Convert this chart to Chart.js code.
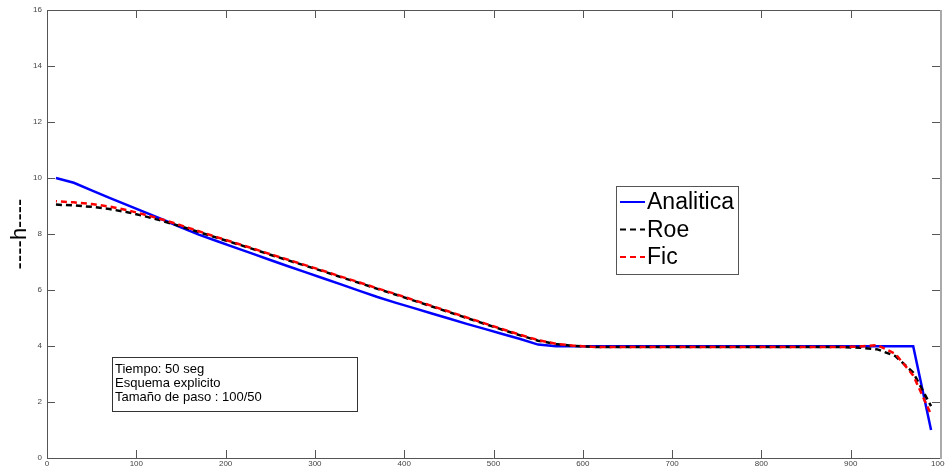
<!DOCTYPE html>
<html>
<head>
<meta charset="utf-8">
<script src="https://cdn.jsdelivr.net/npm/chart.js@4"></script>
<style>
  html, body { margin: 0; padding: 0; background: #fff; }
  #wrap { width: 945px; height: 471px; }
</style>
</head>
<body>
<div id="wrap"><canvas id="hChart" width="945" height="471"></canvas></div>
<script>
// nodos de la malla (dx = 20)
const xNodes = [10, 30, 50, 70, 90, 110, 130, 150, 170, 190, 210, 230, 250, 270, 290, 310, 330, 350, 370, 390,
  410, 430, 450, 470, 490, 510, 530, 550, 570, 590, 610, 630, 650, 670, 690, 710, 730, 750, 770, 790,
  810, 830, 850, 870, 890, 910, 930, 950, 970, 990];

const hAnalitica = [10.00, 9.83, 9.56, 9.29, 9.03, 8.77, 8.51, 8.24, 7.98, 7.75, 7.52, 7.30, 7.07, 6.85, 6.63,
  6.41, 6.19, 5.97, 5.75, 5.55, 5.36, 5.17, 4.98, 4.79, 4.61, 4.43, 4.25, 4.05, 3.99, 3.99,
  3.99, 3.99, 3.99, 3.99, 3.99, 3.99, 3.99, 3.99, 3.99, 3.99, 3.99, 3.99, 3.99, 3.99, 3.99,
  3.99, 3.99, 3.99, 3.99, 1.00];

const hRoe = [9.05, 9.02, 8.97, 8.89, 8.78, 8.63, 8.46, 8.27, 8.07, 7.87, 7.67, 7.47, 7.26, 7.06, 6.86,
  6.66, 6.45, 6.25, 6.04, 5.84, 5.63, 5.42, 5.21, 5.00, 4.79, 4.58, 4.38, 4.19, 4.07, 4.00,
  3.97, 3.96, 3.96, 3.96, 3.96, 3.96, 3.96, 3.96, 3.96, 3.96, 3.96, 3.96, 3.96, 3.96, 3.96,
  3.94, 3.88, 3.64, 3.05, 1.85];

const hFic = [9.17, 9.13, 9.07, 8.98, 8.85, 8.69, 8.51, 8.31, 8.10, 7.89, 7.69, 7.49, 7.28, 7.08, 6.88,
  6.68, 6.47, 6.27, 6.06, 5.86, 5.65, 5.44, 5.23, 5.02, 4.81, 4.60, 4.40, 4.21, 4.08, 4.01,
  3.97, 3.96, 3.96, 3.96, 3.96, 3.96, 3.96, 3.96, 3.96, 3.96, 3.96, 3.96, 3.96, 3.96, 3.96,
  3.98, 4.03, 3.72, 2.95, 1.55];

const xTicks = [0, 100, 200, 300, 400, 500, 600, 700, 800, 900, 1000];
const yTicks = [0, 2, 4, 6, 8, 10, 12, 14, 16];
const noteLines = ["Tiempo: 50 seg", "Esquema explicito", "Tamaño de paso : 100/50"];

const FONT = 'Arial, "Liberation Sans", sans-serif';

function toPoints(ys) {
  return xNodes.map((x, i) => ({ x: x, y: ys[i] }));
}

// marco tipo "box on" con marcas hacia dentro en los cuatro lados
const frameTicks = {
  id: "frameTicks",
  afterDatasetsDraw(chart) {
    const { ctx, chartArea: a, scales } = chart;
    ctx.save();
    ctx.strokeStyle = "#555";
    ctx.lineWidth = 1;
    ctx.beginPath();
    ctx.moveTo(a.left + 0.5, a.bottom + 0.5);
    ctx.lineTo(a.left + 0.5, a.top + 0.5);
    ctx.lineTo(a.right, a.top + 0.5);
    ctx.moveTo(a.left, a.bottom + 0.5);
    ctx.lineTo(a.right, a.bottom + 0.5);
    const len = 8;
    xTicks.forEach((v) => {
      const px = Math.round(scales.x.getPixelForValue(v)) + 0.5;
      ctx.moveTo(px, a.bottom);
      ctx.lineTo(px, a.bottom - len);
      ctx.moveTo(px, a.top);
      ctx.lineTo(px, a.top + len);
    });
    yTicks.forEach((v) => {
      const py = Math.round(scales.y.getPixelForValue(v)) + 0.5;
      ctx.moveTo(a.left, py);
      ctx.lineTo(a.left + len, py);
      ctx.moveTo(a.right, py);
      ctx.lineTo(a.right - len, py);
    });
    ctx.stroke();
    ctx.strokeStyle = "#aaa";
    ctx.lineWidth = 2;
    ctx.beginPath();
    ctx.moveTo(a.right + 1, a.top);
    ctx.lineTo(a.right + 1, a.bottom + 1);
    ctx.stroke();
    ctx.restore();
  },
};

// leyenda y cuadro de texto
const boxes = {
  id: "boxes",
  afterDraw(chart) {
    const { ctx } = chart;
    ctx.save();

    // leyenda
    const lx = 616, ly = 186, lw = 122, lh = 88;
    ctx.fillStyle = "#fff";
    ctx.fillRect(lx, ly, lw, lh);
    ctx.strokeStyle = "#555";
    ctx.lineWidth = 1;
    ctx.strokeRect(lx + 0.5, ly + 0.5, lw, lh);
    ctx.font = "23px " + FONT;
    ctx.textBaseline = "middle";
    const items = chart.data.datasets.slice().sort((p, q) => q.order - p.order);
    items.forEach((ds, i) => {
      const cy = 202 + i * 27.5;
      ctx.strokeStyle = ds.borderColor;
      ctx.lineWidth = 2;
      ctx.setLineDash(ds.borderDash || []);
      ctx.beginPath();
      ctx.moveTo(620, cy);
      ctx.lineTo(645, cy);
      ctx.stroke();
      ctx.setLineDash([]);
      ctx.fillStyle = "#000";
      ctx.fillText(ds.label, 647, cy + 1);
    });

    // cuadro de texto
    const nx = 112, ny = 357, nw = 245, nh = 54;
    ctx.fillStyle = "#fff";
    ctx.fillRect(nx, ny, nw, nh);
    ctx.strokeStyle = "#333";
    ctx.lineWidth = 1;
    ctx.strokeRect(nx + 0.5, ny + 0.5, nw, nh);
    ctx.fillStyle = "#000";
    ctx.font = "13px " + FONT;
    noteLines.forEach((t, i) => ctx.fillText(t, 115, 369 + i * 14));
    ctx.restore();
  },
};

function createHChart() {
  const data = {
    datasets: [
      {
        label: "Analitica",
        data: toPoints(hAnalitica),
        borderColor: "#0000ff",
        borderWidth: 2.5,
        pointRadius: 0,
        order: 3,
      },
      {
        label: "Roe",
        data: toPoints(hRoe),
        borderColor: "#000000",
        borderWidth: 2.5,
        borderDash: [6, 4],
        pointRadius: 0,
        order: 2,
      },
      {
        label: "Fic",
        data: toPoints(hFic),
        borderColor: "#ff0000",
        borderWidth: 2.5,
        borderDash: [6, 4],
        borderDashOffset: 5,
        pointRadius: 0,
        order: 1,
      },
    ],
  };

  const config = {
    type: "line",
    data: data,
    options: {
      responsive: false,
      animation: false,
      layout: { padding: { top: 10, right: 5, left: 0, bottom: 0 } },
      plugins: {
        legend: { display: false },
        tooltip: { enabled: false },
      },
      scales: {
        x: {
          type: "linear",
          min: 0,
          max: 1000,
          grid: { display: false, drawTicks: false },
          border: { display: false },
          ticks: {
            stepSize: 100,
            autoSkip: false,
            maxRotation: 0,
            padding: 1,
            color: "#444",
            font: { family: FONT, size: 8 },
            callback: (v) => String(v),
          },
          afterFit(scale) {
            scale.height = 13;
            scale.paddingLeft = 0;
            scale.paddingRight = 0;
          },
        },
        y: {
          min: 0,
          max: 16,
          grid: { display: false, drawTicks: false },
          border: { display: false },
          ticks: {
            stepSize: 2,
            padding: 5,
            color: "#444",
            font: { family: FONT, size: 8 },
            callback: (v) => String(v),
          },
          title: {
            display: true,
            text: "----h----",
            color: "#000",
            font: { family: FONT, size: 22 },
            padding: { top: 7, bottom: 0 },
          },
          afterFit(scale) {
            scale.width = 47;
            scale.paddingTop = 0;
            scale.paddingBottom = 0;
          },
        },
      },
    },
    plugins: [frameTicks, boxes],
  };

  new Chart(document.getElementById("hChart"), config);
}

document.addEventListener("DOMContentLoaded", () => {
  createHChart();
});
</script>
</body>
</html>
